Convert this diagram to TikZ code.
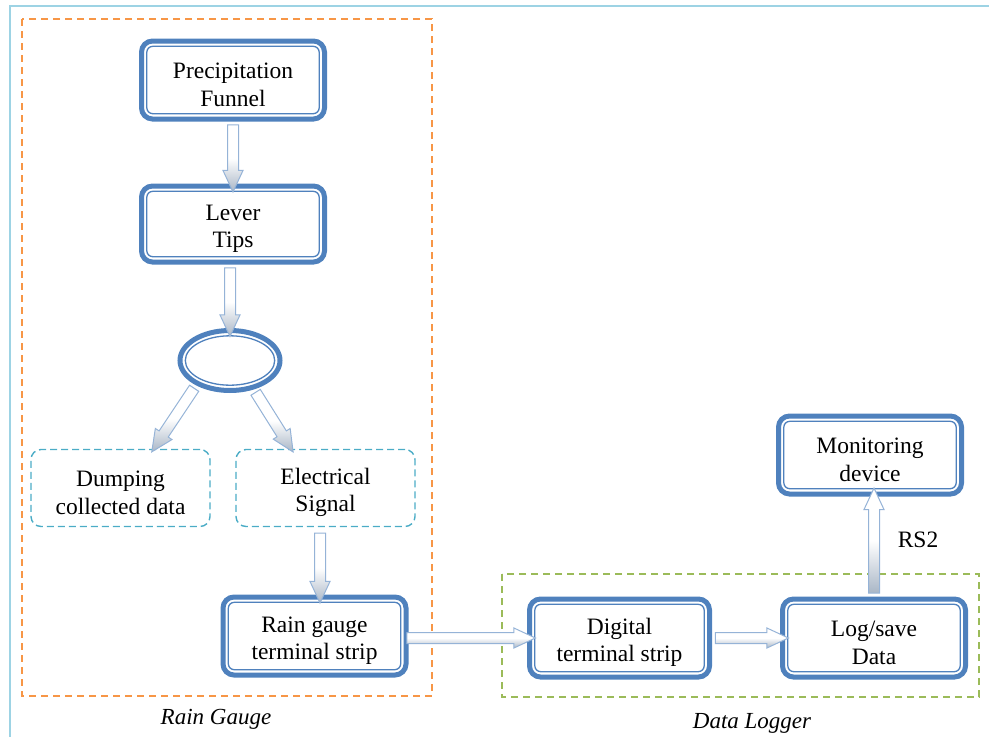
\documentclass[tikz,border=0pt]{standalone}
\usepackage{fontspec}
\setmainfont{Liberation Serif}
\usetikzlibrary{shapes.geometric,shapes.arrows,calc}

\definecolor{boxblue}{HTML}{4F81BD}
\definecolor{arrline}{HTML}{95B3D7}
\definecolor{arrshade}{HTML}{A9B6C6}
\definecolor{gaugeor}{HTML}{F79646}
\definecolor{loggreen}{HTML}{9BBB59}
\definecolor{sigteal}{HTML}{4BACC6}
\definecolor{framebl}{HTML}{9DD3E4}

% tall invisible strut on the first line: sets box text slightly low
\newcommand\topgap{\rule{0pt}{25pt}}

\tikzset{
  txt/.style={font=\fontsize{23.5}{27.5}\selectfont, align=center},
  stepbox/.style={txt, draw=boxblue, line width=5pt, rounded corners=11pt,
    fill=white, minimum width=183pt, minimum height=78pt, inner sep=0pt, outer sep=0pt},
  innerline/.style={draw=boxblue, line width=1.3pt, rounded corners=6pt},
  sigbox/.style={txt, draw=sigteal, line width=1.4pt, dash pattern=on 7pt off 4pt,
    rounded corners=10pt, minimum width=179pt, minimum height=77pt, inner sep=0pt},
  flowarrow/.style={single arrow, draw=arrline, line width=1pt,
    top color=white, bottom color=arrshade, middle color=white,
    single arrow head extend=4.5pt, single arrow head indent=0pt,
    single arrow tip angle=50, inner sep=5pt, outer sep=0pt},
  groupframe/.style={line width=1.6pt, dash pattern=on 7pt off 5pt},
  grouplabel/.style={txt, font=\fontsize{23}{27}\selectfont\itshape},
}

% hollow block arrow between two points
\newcommand\flowto[2]{%
  \path let \p1=(#1), \p2=(#2),
    \n1={atan2(\y2-\y1,\x2-\x1)},
    \n2={veclen(\x2-\x1,\y2-\y1)}
  in node[flowarrow, rotate=\n1, minimum height=\n2] at ($(\p1)!0.5!(\p2)$) {};}

\begin{document}
\begin{tikzpicture}[x=1pt,y=-1pt]
\useasboundingbox (0,0) rectangle (989,737);

% page frame
\draw[framebl, line width=2pt] (10,737) -- (10,6) -- (989,6);

% group frames
\draw[gaugeor, groupframe] (22,19) rectangle (432,696);
\draw[loggreen, groupframe] (502,574) rectangle (979,697);
\node[grouplabel] (lgauge) at (216,719) {Rain Gauge};
\node[grouplabel] (llogger) at (752,723) {Data Logger};

% rain gauge chain
\node[stepbox] (funnel) at (233,80) {\topgap Precipitation\\Funnel};
\node[stepbox, minimum height=76pt] (lever) at (233,224) {\topgap Lever\\Tips};
\node[ellipse, draw=boxblue, line width=5pt, fill=white, minimum width=100pt,
  minimum height=60pt, inner sep=0pt, outer sep=0pt] (ell) at (230,360.5) {};
\node[sigbox] (dump) at (120.5,488) {\topgap Dumping\\collected data};
\node[sigbox] (elec) at (325.5,488) {\topgap Electrical\\Signal};
\node[stepbox] (rgts) at (314.5,636) {\topgap Rain gauge\\terminal strip};

% data logger chain
\node[stepbox, minimum width=180pt] (digital) at (619.5,638) {\topgap Digital\\terminal strip};
\node[stepbox] (logsave) at (874,638) {\topgap Log/save\\Data};
\node[stepbox] (monitor) at (870,455) {\topgap Monitoring\\device};
\node[txt] (rs) at (918,540) {RS2};

% inner rims of the double borders
\foreach \n in {funnel,lever,rgts,digital,logsave,monitor}
  \draw[innerline] ([shift={(5.3pt,-5.3pt)}]\n.north west) rectangle ([shift={(-5.3pt,5.3pt)}]\n.south east);
\draw[boxblue, line width=1.3pt] (ell.center) ellipse [x radius=44.7pt, y radius=24.7pt];

% arrow targets below the ellipse
\coordinate (dumptip) at (155,447);
\coordinate (sigtip) at (290,447);

% connectors
\flowto{funnel.south}{lever.north}
\flowto{lever.south -| ell.north}{ell.north}
\flowto{ell.-145}{dumptip}
\flowto{ell.-50}{sigtip}
\flowto{$(elec.south)!0.5!(rgts.north |- elec.south)$}{$(rgts.north)!0.5!(elec.south |- rgts.north)$}
\flowto{$(rgts.east |- digital.west)+(-5pt,0)$}{digital.west}
\flowto{digital.east}{logsave.west}
\flowto{logsave.north}{monitor.south -| logsave.north}
\end{tikzpicture}
\end{document}
